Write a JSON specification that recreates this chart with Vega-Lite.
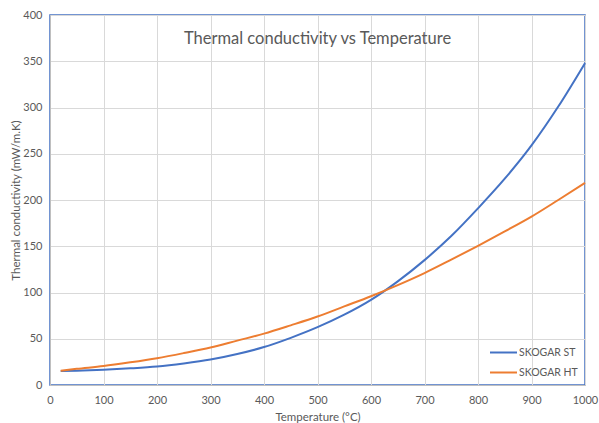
{
  "$schema": "https://vega.github.io/schema/vega-lite/v6.json",
  "autosize": {"type": "none"},
  "width": 535,
  "height": 370,
  "padding": {"left": 50, "top": 15, "right": 14, "bottom": 38},
  "background": "white",
  "config": {
    "font": "Lato",
    "view": {"stroke": "#4472C4", "strokeWidth": 1.5},
    "axis": {
      "labelFont": "Lato",
      "titleFont": "Lato",
      "labelColor": "#595959",
      "titleColor": "#595959",
      "labelFontSize": 11,
      "titleFontSize": 11.5,
      "titleFontWeight": "normal",
      "ticks": false,
      "gridColor": "#d9d9d9",
      "gridWidth": 1,
      "domainColor": "#bfbfbf",
      "domainWidth": 1,
      "labelOverlap": false,
      "labelFlush": false
    },
    "legend": {
      "labelFont": "Lato",
      "labelColor": "#595959",
      "labelFontSize": 10.5
    }
  },
  "title": {
    "text": "Thermal conductivity vs Temperature",
    "font": "Lato",
    "fontSize": 16.5,
    "fontWeight": "normal",
    "color": "#595959",
    "orient": "top",
    "anchor": "middle",
    "offset": -38
  },
  "data": {
    "values": [
      {"t": 20, "k": 15, "s": "SKOGAR ST"},
      {"t": 50, "k": 15.5, "s": "SKOGAR ST"},
      {"t": 100, "k": 16.5, "s": "SKOGAR ST"},
      {"t": 150, "k": 18, "s": "SKOGAR ST"},
      {"t": 200, "k": 20, "s": "SKOGAR ST"},
      {"t": 250, "k": 23.3, "s": "SKOGAR ST"},
      {"t": 300, "k": 27.5, "s": "SKOGAR ST"},
      {"t": 350, "k": 33.5, "s": "SKOGAR ST"},
      {"t": 400, "k": 41, "s": "SKOGAR ST"},
      {"t": 450, "k": 51, "s": "SKOGAR ST"},
      {"t": 500, "k": 62.5, "s": "SKOGAR ST"},
      {"t": 550, "k": 76, "s": "SKOGAR ST"},
      {"t": 600, "k": 92, "s": "SKOGAR ST"},
      {"t": 650, "k": 112, "s": "SKOGAR ST"},
      {"t": 700, "k": 135, "s": "SKOGAR ST"},
      {"t": 750, "k": 161, "s": "SKOGAR ST"},
      {"t": 800, "k": 191, "s": "SKOGAR ST"},
      {"t": 850, "k": 223, "s": "SKOGAR ST"},
      {"t": 900, "k": 259, "s": "SKOGAR ST"},
      {"t": 950, "k": 301, "s": "SKOGAR ST"},
      {"t": 1000, "k": 348, "s": "SKOGAR ST"},
      {"t": 20, "k": 15.5, "s": "SKOGAR HT"},
      {"t": 50, "k": 17.5, "s": "SKOGAR HT"},
      {"t": 100, "k": 20.5, "s": "SKOGAR HT"},
      {"t": 150, "k": 24.5, "s": "SKOGAR HT"},
      {"t": 200, "k": 29, "s": "SKOGAR HT"},
      {"t": 250, "k": 34.5, "s": "SKOGAR HT"},
      {"t": 300, "k": 40.5, "s": "SKOGAR HT"},
      {"t": 350, "k": 48, "s": "SKOGAR HT"},
      {"t": 400, "k": 55.5, "s": "SKOGAR HT"},
      {"t": 450, "k": 64.5, "s": "SKOGAR HT"},
      {"t": 500, "k": 74, "s": "SKOGAR HT"},
      {"t": 550, "k": 85, "s": "SKOGAR HT"},
      {"t": 600, "k": 96, "s": "SKOGAR HT"},
      {"t": 650, "k": 108, "s": "SKOGAR HT"},
      {"t": 700, "k": 121, "s": "SKOGAR HT"},
      {"t": 750, "k": 135.5, "s": "SKOGAR HT"},
      {"t": 800, "k": 150.5, "s": "SKOGAR HT"},
      {"t": 850, "k": 166, "s": "SKOGAR HT"},
      {"t": 900, "k": 182, "s": "SKOGAR HT"},
      {"t": 950, "k": 200, "s": "SKOGAR HT"},
      {"t": 1000, "k": 218.5, "s": "SKOGAR HT"}
    ]
  },
  "mark": {"type": "line", "interpolate": "monotone", "strokeWidth": 2},
  "encoding": {
    "x": {
      "field": "t",
      "type": "quantitative",
      "title": "Temperature (°C)",
      "scale": {"domain": [0, 1000], "nice": false},
      "axis": {"format": "d", "values": [0,100,200,300,400,500,600,700,800,900,1000], "labelPadding": 9, "titlePadding": 6}
    },
    "y": {
      "field": "k",
      "type": "quantitative",
      "title": "Thermal conductivity (mW/m.K)",
      "scale": {"domain": [0, 400], "nice": false},
      "axis": {"values": [0,50,100,150,200,250,300,350,400], "labelPadding": 8, "titlePadding": 1}
    },
    "color": {
      "field": "s",
      "type": "nominal",
      "sort": ["SKOGAR ST", "SKOGAR HT"],
      "scale": {"domain": ["SKOGAR ST", "SKOGAR HT"], "range": ["#4472C4", "#ED7D31"]},
      "legend": {
        "title": null,
        "orient": "bottom-right",
        "offset": 7,
        "symbolType": "stroke",
        "symbolSize": 729,
        "symbolStrokeWidth": 2,
        "rowPadding": -6,
        "labelOffset": 1
      }
    }
  }
}
